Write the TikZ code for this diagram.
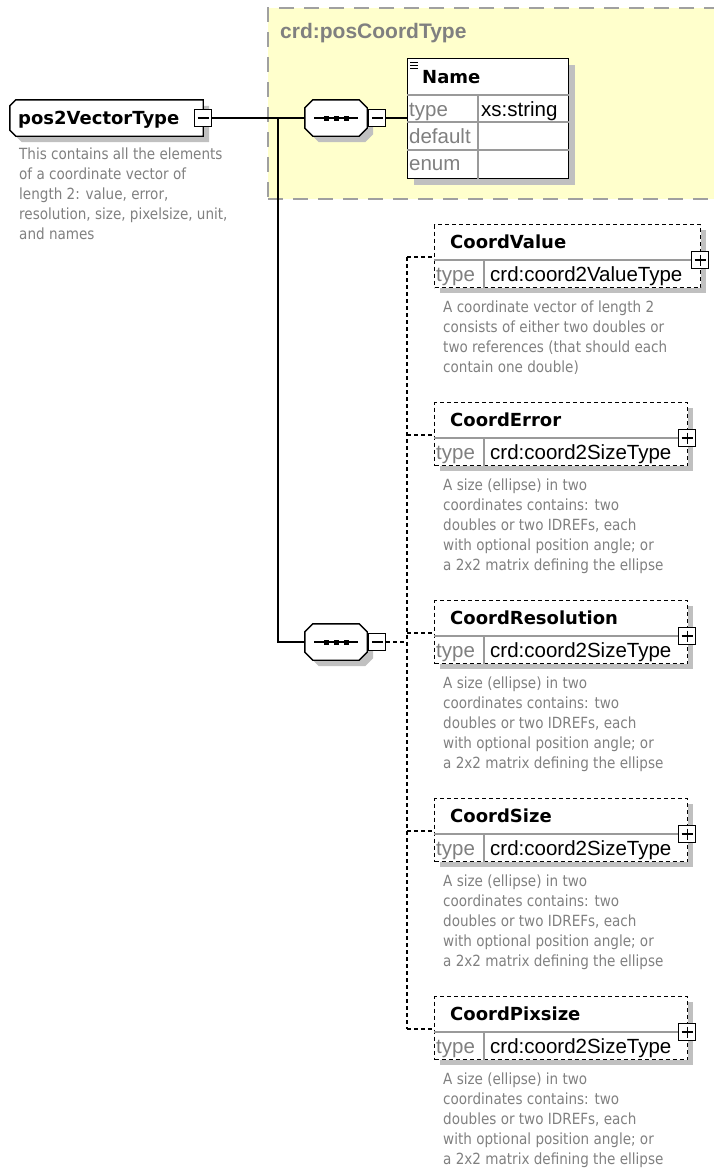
\documentclass[tikz,border=0pt]{standalone}
\usepackage{fontspec}
\usetikzlibrary{calc}
\newfontfamily\dvsans{DejaVu Sans}
\newfontfamily\dvdesc{DejaVu Sans}[FakeStretch=0.88]
\newfontfamily\lisans{Liberation Sans}
\definecolor{grpyellow}{HTML}{FFFFCC}
\definecolor{grpborder}{HTML}{A0A0A0}
\definecolor{shgray}{HTML}{C0C0C0}
\definecolor{txtgray}{HTML}{808080}
\definecolor{rulegray}{HTML}{9A9A9A}

\pgfdeclarelayer{grplayer}
\pgfdeclarelayer{linelayer}
\pgfsetlayers{grplayer,linelayer,main}

\tikzset{
  conn/.style={line width=1.4pt, draw=black},
  dconn/.style={line width=1.2pt, draw=black, dash pattern=on 4pt off 3pt},
  boxshadow/.style={general shadow={fill=shgray, shadow xshift=6pt, shadow yshift=-6pt}},
  titlefont/.style={font=\dvsans\bfseries\fontsize{18}{20}\selectfont},
  rowfont/.style={font=\lisans\fontsize{20.5}{24}\selectfont},
  descfont/.style={font=\dvdesc\fontsize{15.4}{20}\selectfont, text=txtgray, align=left, inner sep=0},
  rowrule/.style={draw=rulegray, line width=1.2pt},
  outline/.style={draw=black, line width=1.4pt, fill=white},
  frame/.style={draw=none, inner sep=0},
  minusbox/.style={draw, line width=1.2pt, fill=white, minimum width=17pt, minimum height=17pt, inner sep=0,
    path picture={
      \draw[line width=1.2pt] ([xshift=3pt]path picture bounding box.west)
        -- ([xshift=-3pt]path picture bounding box.east);
    }},
  plusbox/.style={draw, line width=1.2pt, fill=white, minimum width=17pt, minimum height=17pt, inner sep=0,
    path picture={
      \draw[line width=1.2pt] ([xshift=3pt]path picture bounding box.west)
        -- ([xshift=-3pt]path picture bounding box.east);
      \draw[line width=1.2pt] ([yshift=-3pt]path picture bounding box.north)
        -- ([yshift=3pt]path picture bounding box.south);
    }},
  elbox/.style={draw, dash pattern=on 4pt off 3pt, line width=1.2pt, fill=white,
    minimum height=63pt, anchor=north west, inner sep=0},
}

% octagon round a node: node, cut, dx, dy (dy downward)
\newcommand\octpath[4]{%
  ($(#1.north west)+(#2+#3,#4)$) -- ($(#1.north east)+(-#2+#3,#4)$)
  -- ($(#1.north east)+(#3,#2+#4)$) -- ($(#1.south east)+(#3,-#2+#4)$)
  -- ($(#1.south east)+(-#2+#3,#4)$) -- ($(#1.south west)+(#2+#3,#4)$)
  -- ($(#1.south west)+(#3,-#2+#4)$) -- ($(#1.north west)+(#3,#2+#4)$) -- cycle}
% box with cut left corners: node, cut, dx, dy
\newcommand\leftcutpath[4]{%
  ($(#1.north west)+(#2+#3,#4)$) -- ($(#1.north east)+(#3,#4)$)
  -- ($(#1.south east)+(#3,#4)$) -- ($(#1.south west)+(#2+#3,#4)$)
  -- ($(#1.south west)+(#3,-#2+#4)$) -- ($(#1.north west)+(#3,#2+#4)$) -- cycle}
% sequence compositor drawn round an invisible frame node
\newcommand\seqshape[1]{%
  \fill[shgray] \octpath{#1}{8}{6}{6};
  \path[outline] \octpath{#1}{8}{0}{0};
  \draw[line width=1.2pt] ($(#1.center)+(-22,0)$) -- ($(#1.center)+(22,0)$);
  \foreach \d in {-10,0,10}
    \fill[black] ($(#1.center)+(\d,0)$) +(-2.5,-2.5) rectangle +(2.5,2.5);
}

% optional child element: name, top, right edge, title, type, description
\newcommand\childbox[6]{%
  \fill[shgray] (440,#2+6) rectangle (#3+6,#2+69);
  \node[elbox, minimum width={(#3-434)*1pt}] (#1) at (434,#2) {};
  \draw[rowrule] ([yshift=-36pt]#1.north west) -- ([yshift=-36pt]#1.north east);
  \draw[rowrule] ([xshift=50pt,yshift=-36pt]#1.north west) -- ([xshift=50pt]#1.south west);
  \node[titlefont, anchor=base west, inner sep=0] (#1-title) at ([xshift=16pt,yshift=-24pt]#1.north west) {#4};
  \node[rowfont, text=txtgray, anchor=base west, inner sep=0] (#1-typelabel) at ([xshift=2pt,yshift=-57pt]#1.north west) {type};
  \node[rowfont, anchor=base west, inner sep=0] (#1-type) at ([xshift=56pt,yshift=-57pt]#1.north west) {#5};
  \node[plusbox] (#1-plus) at ([xshift=-1pt,yshift=-36pt]#1.north east) {};
  \node[descfont, anchor=north west] (#1-desc) at ([xshift=9pt,yshift=-77pt]#1.north west) {#6};
  \coordinate (#1-in) at (407,#2+33);
  \begin{pgfonlayer}{linelayer}
    \draw[dconn] (#1-in) -- (#1-in -| #1.west);
  \end{pgfonlayer}
}

\begin{document}
\begin{tikzpicture}[x=1pt,y=-1pt]
  \useasboundingbox (0,0) rectangle (713,1171);
  \clip (0,0) rectangle (713,1171);

  % attribute group
  \begin{pgfonlayer}{grplayer}
    \node[fill=grpyellow, draw=grpborder, dash pattern=on 15pt off 10pt, line width=2pt,
          minimum width=480pt, minimum height=191pt, anchor=north west, inner sep=0] (grp) at (267,7) {};
  \end{pgfonlayer}
  \node[font=\lisans\bfseries\fontsize{21}{24}\selectfont, text=txtgray, anchor=base west, inner sep=0]
        (grp-label) at (280,38) {crd:posCoordType};

  % root complex type
  \node[frame, minimum width=193pt, minimum height=36pt] (root) at (106.5,118) {};
  \fill[shgray] \leftcutpath{root}{6}{6}{6};
  \path[outline] \leftcutpath{root}{6}{0}{0};
  \node[titlefont, anchor=base west, inner sep=0] (root-title) at (18,124.5) {pos2VectorType};
  \node[minusbox] (root-minus) at (root.east) {};
  \node[descfont, anchor=north west] (root-desc) at (19,148)
    {This contains all the elements\\of a coordinate vector of\\length 2: value, error,\\resolution, size, pixelsize, unit,\\and names};

  % sequence compositors
  \node[frame, minimum width=62pt, minimum height=36pt] (seq1) at (336,118) {};
  \seqshape{seq1}
  \node[minusbox, anchor=west] (seq1-minus) at ([xshift=1pt]seq1.east) {};
  \node[frame, minimum width=62pt, minimum height=36pt] (seq2) at (336,642) {};
  \seqshape{seq2}
  \node[minusbox, anchor=west] (seq2-minus) at ([xshift=1pt]seq2.east) {};

  % attribute Name
  \fill[shgray] (414,65) rectangle (575,185);
  \node[draw, line width=1.4pt, fill=white, minimum width=161pt, minimum height=120pt,
        anchor=north west, inner sep=0] (attr) at (407,58) {};
  \draw[rowrule] ([yshift=-37pt]attr.north west) -- ([yshift=-37pt]attr.north east);
  \draw[rowrule] ([yshift=-64pt]attr.north west) -- ([yshift=-64pt]attr.north east);
  \draw[rowrule] ([yshift=-92pt]attr.north west) -- ([yshift=-92pt]attr.north east);
  \draw[rowrule] ([xshift=71pt,yshift=-37pt]attr.north west) -- ([xshift=71pt]attr.south west);
  \draw[line width=0.9pt] ([xshift=3pt,yshift=-4pt]attr.north west) -- ++(8,0)
                          ([xshift=3pt,yshift=-7pt]attr.north west) -- ++(8,0)
                          ([xshift=3pt,yshift=-10pt]attr.north west) -- ++(8,0);
  \node[font=\dvsans\bfseries\fontsize{18}{20}\selectfont, anchor=base west, inner sep=0]
        (attr-title) at ([xshift=15pt,yshift=-25pt]attr.north west) {Name};
  \node[rowfont, text=txtgray, anchor=base west, inner sep=0] (attr-type) at ([xshift=2pt,yshift=-58pt]attr.north west) {type};
  \node[rowfont, anchor=base west, inner sep=0] (attr-typeval) at ([xshift=74pt,yshift=-58pt]attr.north west) {xs:string};
  \node[rowfont, text=txtgray, anchor=base west, inner sep=0] (attr-default) at ([xshift=2pt,yshift=-85pt]attr.north west) {default};
  \node[rowfont, text=txtgray, anchor=base west, inner sep=0] (attr-enum) at ([xshift=2pt,yshift=-112pt]attr.north west) {enum};

  % solid connectors
  \coordinate (trunk) at (278,118);
  \begin{pgfonlayer}{linelayer}
    \draw[conn] (root-minus.east) -- (seq1.west);
    \draw[conn] (trunk) |- (seq2.west);
    \draw[conn] (seq1-minus.east) -- (attr.west |- seq1-minus.east);
  \end{pgfonlayer}

  % optional child elements
  \childbox{cv}{224}{700}{CoordValue}{crd:coord2ValueType}
    {A coordinate vector of length 2\\consists of either two doubles or\\two references (that should each\\contain one double)}
  \childbox{ce}{402}{687}{CoordError}{crd:coord2SizeType}
    {A size (ellipse) in two\\coordinates contains: two\\doubles or two IDREFs, each\\with optional position angle; or\\a 2x2 matrix defining the ellipse}
  \childbox{cr}{600}{687}{CoordResolution}{crd:coord2SizeType}
    {A size (ellipse) in two\\coordinates contains: two\\doubles or two IDREFs, each\\with optional position angle; or\\a 2x2 matrix defining the ellipse}
  \childbox{cs}{798}{687}{CoordSize}{crd:coord2SizeType}
    {A size (ellipse) in two\\coordinates contains: two\\doubles or two IDREFs, each\\with optional position angle; or\\a 2x2 matrix defining the ellipse}
  \childbox{cp}{996}{687}{CoordPixsize}{crd:coord2SizeType}
    {A size (ellipse) in two\\coordinates contains: two\\doubles or two IDREFs, each\\with optional position angle; or\\a 2x2 matrix defining the ellipse}

  % dashed bus to the children
  \begin{pgfonlayer}{linelayer}
    \draw[dconn] (cv-in) -- (cp-in);
    \draw[dconn] (seq2-minus.east) -- (seq2-minus.east -| cv-in);
  \end{pgfonlayer}
\end{tikzpicture}
\end{document}
